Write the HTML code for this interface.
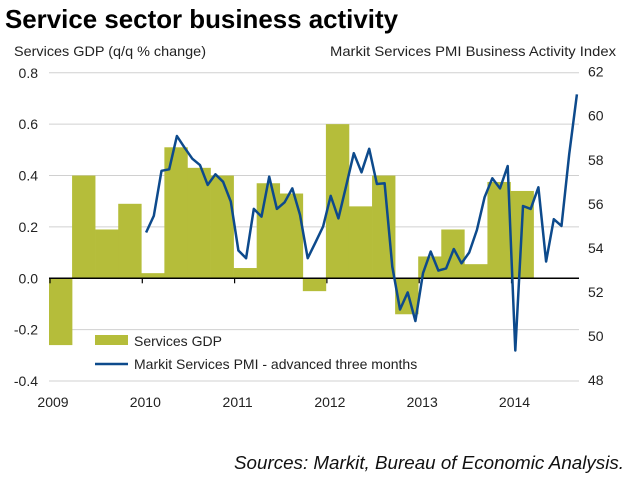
<!DOCTYPE html>
<html><head><meta charset="utf-8"><style>
html,body{margin:0;padding:0;background:#fff;}
svg{display:block;font-family:"Liberation Sans",Arial,sans-serif;}
</style></head><body>
<svg id="chart" width="640" height="481" viewBox="0 0 640 481">
<text x="5" y="28" font-size="26" font-weight="bold" fill="#000" textLength="393" lengthAdjust="spacingAndGlyphs">Service sector business activity</text>
<text x="14" y="56" font-size="14" fill="#222" textLength="192" lengthAdjust="spacingAndGlyphs">Services GDP (q/q % change)</text>
<text x="616" y="56" font-size="14" fill="#222" text-anchor="end" textLength="286" lengthAdjust="spacingAndGlyphs">Markit Services PMI Business Activity Index</text>
<g id="grid"></g><g id="bars"></g><g id="axis"></g><g id="line"></g><g id="labels"></g>
<g>
<rect x="95" y="335" width="33" height="10" fill="#b5bd3a"/>
<text x="134" y="346" font-size="14" fill="#222">Services GDP</text>
<line x1="95" y1="364" x2="128" y2="364" stroke="#0d4a8c" stroke-width="2.5"/>
<text x="134" y="369" font-size="14" fill="#222">Markit Services PMI - advanced three months</text>
</g>
<text x="624" y="469" font-size="18" font-style="italic" fill="#111" text-anchor="end" textLength="390" lengthAdjust="spacingAndGlyphs">Sources: Markit, Bureau of Economic Analysis.</text>
</svg>
<script>
const leftTicks=[0.8,0.6,0.4,0.2,0.0,-0.2,-0.4];
const leftTickLabels=["0.8","0.6","0.4","0.2","0.0","-0.2","-0.4"];
const rightTickLabels=["62","60","58","56","54","52","50","48"];
const rightTicks=[62,60,58,56,54,52,50,48];
const years=["2009","2010","2011","2012","2013","2014"];
const gdpValues=[-0.26,0.40,0.19,0.29,0.02,0.51,0.43,0.40,0.04,0.37,0.33,-0.05,0.60,0.28,0.40,-0.14,0.085,0.19,0.055,0.375,0.34];
const pmiStartMonth=12;
const pmiValues=[54.7,55.45,57.5,57.57,59.08,58.55,58.05,57.76,56.86,57.34,57.0,56.1,53.88,53.53,55.77,55.42,57.23,55.77,56.07,56.7,55.5,53.53,54.24,54.97,56.36,55.34,56.8,58.3,57.43,58.5,56.9,56.93,53.15,51.2,51.98,50.68,52.85,53.83,52.97,53.07,53.95,53.3,53.79,54.81,56.3,57.16,56.7,57.72,49.34,55.9,55.77,56.75,53.38,55.3,55.0,58.25,60.97];
const NS="http://www.w3.org/2000/svg";
const X0=50,YEARW=92.3,PL=49,PR=579;
const yL=v=>278.3-(v/0.2)*51.38;
const yR=v=>71.7+(62-v)/14*308.3;
const xT=t=>X0+t*YEARW;
function mk(tag,attrs,parent){const e=document.createElementNS(NS,tag);for(const k in attrs)e.setAttribute(k,attrs[k]);document.getElementById(parent).appendChild(e);return e;}
leftTicks.forEach((v,i)=>{
 if(v!==0){const g=mk('line',{x1:PL,x2:PR,y1:yL(v),y2:yL(v),stroke:'#d0d0d0','stroke-width':1},'grid');
 
 }
 const t=mk('text',{x:38,y:yL(v)+5,'font-size':14,'text-anchor':'end',fill:'#222'},'labels');t.textContent=leftTickLabels[i];
 
 
});
rightTicks.forEach((v,i)=>{
 const t=mk('text',{x:588,y:yR(v)+5,'font-size':14,fill:'#222'},'labels');t.textContent=rightTickLabels[i];
 
 
});
gdpValues.forEach((v,i)=>{
 const x=xT(i/4),w=YEARW/4,y0=yL(0),y1=yL(v);
 const r=mk('rect',{x:x-1,y:Math.min(y0,y1),width:w+0.3,height:Math.abs(y1-y0),fill:'#b5bd3a'},'bars');
 
 
});
const ax=mk('line',{x1:PL,x2:PR,y1:yL(0),y2:yL(0),stroke:'#000','stroke-width':1.5},'axis');


years.forEach((y,i)=>{
 const tk=mk('line',{x1:xT(i),x2:xT(i),y1:yL(0),y2:yL(0)+5,stroke:'#000','stroke-width':1.2},'axis');
 
 
 const t=mk('text',{x:xT(i)+3,y:407,'font-size':14,'text-anchor':'middle',fill:'#222'},'labels');t.textContent=y;
 
 
});
const pts=pmiValues.map((v,i)=>[xT((pmiStartMonth+i+0.5)/12),yR(v)]);
const pl=mk('polyline',{points:pts.map(p=>p[0].toFixed(1)+','+p[1].toFixed(1)).join(' '),fill:'none',stroke:'#0d4a8c','stroke-width':2.5,'stroke-linejoin':'round'},'line');


</script>
</body></html>
